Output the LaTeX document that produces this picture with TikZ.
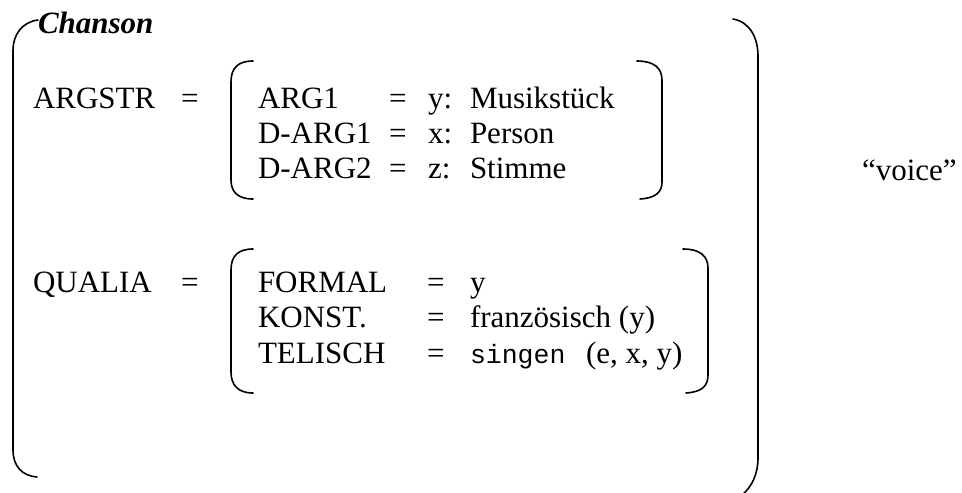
\documentclass[tikz,border=0pt]{standalone}
\usepackage{fontspec}
\setmainfont{Liberation Serif}
\setmonofont{Liberation Mono}
\begin{document}
\begin{tikzpicture}[x=1pt,y=-1pt,
  txt/.style={anchor=base west,inner sep=0pt,outer sep=0pt,font=\fontsize{31}{36}\selectfont},
  mono/.style={anchor=base west,inner sep=0pt,outer sep=0pt,font=\fontsize{26.5}{32}\ttfamily},
  brk/.style={line width=1.6pt,line cap=round}]
\useasboundingbox (0,0) rectangle (962,493);
% big brackets
\draw[brk] (38,20) .. controls (22,22) and (13,35) .. (13,50) -- (13,450) .. controls (13,466) and (22,476) .. (37,477);
\draw[brk] (733,19) .. controls (750,22) and (758,38) .. (758,56) -- (758,458) .. controls (758,474) and (752,487) .. (741,496);
% inner bracket 1
\draw[brk] (253,61) .. controls (238,61) and (231,68) .. (231,82) -- (231,180) .. controls (231,192) and (238,199) .. (253,199);
\draw[brk] (637,61) .. controls (654,61) and (662,68) .. (662,80) -- (662,182) .. controls (662,192) and (656,198) .. (640,199);
% inner bracket 2
\draw[brk] (253,249) .. controls (238,249) and (231,256) .. (231,270) -- (231,372) .. controls (231,385) and (238,393) .. (253,393);
\draw[brk] (683,249) .. controls (700,249) and (708,256) .. (708,268) -- (708,375) .. controls (708,386) and (702,392) .. (686,393);
% texts
\node[txt,font=\fontsize{31}{36}\selectfont\bfseries\itshape] (chanson) at (38,33) {Chanson};
\node[txt] (argstr) at (33,108) {ARGSTR};
\node[txt] (argeq) at (181,108) {=};
\node[txt] (a1) at (258,108) {ARG1};
\node[txt] (a1eq) at (389,108) {=};
\node[txt] (a1v) at (428,108) {y:};
\node[txt] (a1w) at (470,108) {Musikstück};
\node[txt] (d1) at (258,143) {D-ARG1};
\node[txt] (d1eq) at (389,143) {=};
\node[txt] (d1v) at (428,143) {x:};
\node[txt] (d1w) at (470,143) {Person};
\node[txt] (d2) at (258,178) {D-ARG2};
\node[txt] (d2eq) at (389,178) {=};
\node[txt] (d2v) at (428,178) {z:};
\node[txt] (d2w) at (470,178) {Stimme};
\node[txt] (voice) at (862,180) {“voice”};
\node[txt] (qualia) at (33,292) {QUALIA};
\node[txt] (qeq) at (181,292) {=};
\node[txt] (f) at (258,292) {FORMAL};
\node[txt] (feq) at (427,292) {=};
\node[txt] (fv) at (470,292) {y};
\node[txt] (k) at (258,327) {KONST.};
\node[txt] (keq) at (427,327) {=};
\node[txt] (kv) at (470,327) {französisch (y)};
\node[txt] (t) at (258,363) {TELISCH};
\node[txt] (teq) at (427,363) {=};
\node[mono] (tv) at (470,363) {singen};
\node[txt] (targs) at (586,363) {(e, x, y)};
\end{tikzpicture}
\end{document}
